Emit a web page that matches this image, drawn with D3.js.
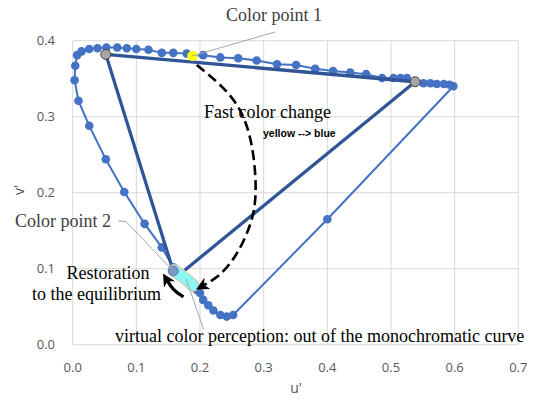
<!DOCTYPE html>
<meta charset="utf-8">
<head>
    <title>u'v' chromaticity</title>
</head>
<style>
 body { margin: 0; background: #fff; }
 .grid line { stroke: #d9d9d9; stroke-width: 1px; }
 .tick-label { font-family: "Open Sans", sans-serif; font-size: 13px; fill: #595959; }
 .note { font-family: "Liberation Serif", serif; font-size: 18px; }
 .leader { fill: none; stroke: #a6a6a6; stroke-width: 1px; }
</style>
<body>
<div id="chart"></div>
<script src="https://d3js.org/d3.v7.min.js"></script>
<script>

 // spectral locus (u', v'), bottom of the curve -> up the left -> top -> red end
 var locusU = [0.252, 0.242, 0.232, 0.221, 0.213, 0.205, 0.200, 0.195, 0.190, 0.180, 0.170, 0.158,
               0.140, 0.113, 0.081, 0.052, 0.026, 0.009, 0.003, 0.004, 0.007, 0.014, 0.026, 0.039,
               0.053, 0.070, 0.085, 0.100, 0.119, 0.140, 0.158, 0.179, 0.188, 0.205, 0.232, 0.260,
               0.289, 0.321, 0.351, 0.381, 0.409, 0.436, 0.461, 0.486, 0.504, 0.515, 0.525, 0.538,
               0.551, 0.562, 0.572, 0.583, 0.592, 0.598];
 var locusV = [0.039, 0.037, 0.039, 0.045, 0.052, 0.059, 0.068, 0.072, 0.077, 0.086, 0.092, 0.102,
               0.128, 0.159, 0.201, 0.244, 0.288, 0.321, 0.348, 0.367, 0.381, 0.386, 0.389, 0.390,
               0.391, 0.391, 0.390, 0.389, 0.388, 0.384, 0.384, 0.383, 0.380, 0.381, 0.378, 0.377,
               0.374, 0.369, 0.368, 0.363, 0.360, 0.358, 0.356, 0.351, 0.351, 0.351, 0.351, 0.346,
               0.344, 0.344, 0.343, 0.343, 0.342, 0.340];

 // purple line: red end -> one marker -> blue end
 var purpleU = [0.598, 0.400, 0.252];
 var purpleV = [0.340, 0.165, 0.039];

 // triangle between the two grey points and the virtual colour
 var triU = [0.158, 0.052, 0.538, 0.176];
 var triV = [0.097, 0.382, 0.346, 0.098];

 var greyU = [0.052, 0.538];
 var greyV = [0.382, 0.346];

 var point1 = [0.188, 0.380];   // yellow
 var point2 = [0.158, 0.097];   // grey-blue

 // cyan band (virtual colour perception)
 var cyanU = [0.159, 0.170, 0.180, 0.189];
 var cyanV = [0.098, 0.091, 0.085, 0.078];

 // dashed arc "fast color change"
 var arcU = [0.195, 0.258, 0.283, 0.290, 0.281, 0.256, 0.228, 0.201];
 var arcV = [0.368, 0.325, 0.270, 0.197, 0.158, 0.114, 0.088, 0.076];

 // restoration arrow
 var backU = [0.174, 0.157, 0.146];
 var backV = [0.063, 0.072, 0.088];

 var xTicks = [0, 0.1, 0.2, 0.3, 0.4, 0.5, 0.6, 0.7];
 var yTicks = [0, 0.1, 0.2, 0.3, 0.4];

 var width = 542, height = 400;

 var x = d3.scaleLinear().domain([0, 0.7]).range([72.7, 518.3]);
 var y = d3.scaleLinear().domain([0, 0.4]).range([344.7, 40.7]);

 function pts(us, vs) {
     return us.map(function(u, i) { return [u, vs[i]]; });
 }

 var line = d3.line()
              .x(function(d) { return x(d[0]); })
              .y(function(d) { return y(d[1]); });

 var svg = d3.select("#chart").append("svg")
             .attr("width", width)
             .attr("height", height);

 svg.append("rect").attr("width", width).attr("height", height).attr("fill", "#fff");

 var defs = svg.append("defs");
 defs.append("marker")
     .attr("id", "head")
     .attr("viewBox", "0 0 10 10")
     .attr("refX", 6).attr("refY", 5)
     .attr("markerWidth", 5).attr("markerHeight", 5)
     .attr("markerUnits", "strokeWidth")
     .attr("orient", "auto")
     .append("path")
     .attr("d", "M0,0 L10,5 L0,10 L3,5 Z")
     .attr("fill", "#000");
 defs.append("marker")
     .attr("id", "head2")
     .attr("viewBox", "0 0 10 10")
     .attr("refX", 6).attr("refY", 5)
     .attr("markerWidth", 4).attr("markerHeight", 4)
     .attr("markerUnits", "strokeWidth")
     .attr("orient", "auto")
     .append("path")
     .attr("d", "M0,0 L10,5 L0,10 L3,5 Z")
     .attr("fill", "#000");

 // grid
 var grid = svg.append("g").attr("class", "grid");
 grid.selectAll(".gx").data(xTicks).enter().append("line")
     .attr("x1", function(d) { return x(d); }).attr("x2", function(d) { return x(d); })
     .attr("y1", y(0)).attr("y2", y(0.4));
 grid.selectAll(".gy").data(yTicks).enter().append("line")
     .attr("y1", function(d) { return y(d); }).attr("y2", function(d) { return y(d); })
     .attr("x1", x(0)).attr("x2", x(0.7));

 // tick labels
 svg.selectAll(".xl").data(xTicks).enter().append("text")
    .attr("class", "tick-label")
    .attr("x", function(d) { return x(d); })
    .attr("y", 372)
    .attr("text-anchor", "middle")
    .text(function(d) { return d.toFixed(1); });
 svg.selectAll(".yl").data(yTicks).enter().append("text")
    .attr("class", "tick-label")
    .attr("x", 55)
    .attr("y", function(d) { return y(d) + 4.5; })
    .attr("text-anchor", "end")
    .text(function(d) { return d.toFixed(1); });

 svg.append("text").attr("class", "tick-label")
    .attr("x", 296).attr("y", 393)
    .attr("text-anchor", "middle")
    .style("font-size", "14px")
    .text("u'");
 svg.append("text").attr("class", "tick-label")
    .attr("transform", "translate(24,190) rotate(-90)")
    .attr("text-anchor", "middle")
    .style("font-size", "14px")
    .text("v'");

 // purple line
 svg.append("path")
    .datum(pts(purpleU, purpleV))
    .attr("fill", "none").attr("stroke", "#4472c4").attr("stroke-width", 2)
    .attr("d", line);
 svg.append("circle")
    .attr("cx", x(purpleU[1])).attr("cy", y(purpleV[1])).attr("r", 4.3)
    .attr("fill", "#4472c4");

 // locus
 var locus = pts(locusU, locusV);
 svg.append("path")
    .datum(locus)
    .attr("fill", "none").attr("stroke", "#4472c4").attr("stroke-width", 2)
    .attr("d", line);
 svg.append("g").selectAll("circle")
    .data(locus).enter().append("circle")
    .attr("cx", function(d) { return x(d[0]); })
    .attr("cy", function(d) { return y(d[1]); })
    .attr("r", 4.3)
    .attr("fill", "#4472c4");

 // triangle
 svg.append("path")
    .datum(pts(triU, triV))
    .attr("fill", "none").attr("stroke", "#2f5597").attr("stroke-width", 3.3)
    .attr("stroke-linejoin", "round")
    .attr("d", line);

 // cyan band
 var cyan = pts(cyanU, cyanV);
 svg.append("path").datum(cyan)
    .attr("fill", "none").attr("stroke", "#f4b183").attr("stroke-width", 12.5)
    .attr("stroke-linecap", "round").attr("d", line);
 svg.append("path").datum(cyan)
    .attr("fill", "none").attr("stroke", "#8cf7f7").attr("stroke-width", 11)
    .attr("stroke-linecap", "round").attr("d", line);

 // grey points
 svg.append("g").selectAll("circle")
    .data(pts(greyU, greyV)).enter().append("circle")
    .attr("cx", function(d) { return x(d[0]); })
    .attr("cy", function(d) { return y(d[1]); })
    .attr("r", 5)
    .attr("fill", "#a5a5a5").attr("stroke", "#404040").attr("stroke-width", 1);

 svg.append("circle")
    .attr("cx", x(point1[0])).attr("cy", y(point1[1])).attr("r", 5.2)
    .attr("fill", "#ffff00");
 svg.append("circle")
    .attr("cx", x(point2[0])).attr("cy", y(point2[1])).attr("r", 5)
    .attr("fill", "#7a97c6").attr("stroke", "#5b7fc0").attr("stroke-width", 1);

 // arrows
 svg.append("path")
    .datum(pts(arcU, arcV))
    .attr("fill", "none").attr("stroke", "#000").attr("stroke-width", 2.6)
    .attr("stroke-dasharray", "10,5")
    .attr("marker-end", "url(#head)")
    .attr("d", line.curve(d3.curveBasis));
 svg.append("path")
    .datum(pts(backU, backV))
    .attr("fill", "none").attr("stroke", "#000").attr("stroke-width", 3.2)
    .attr("marker-end", "url(#head2)")
    .attr("d", line.curve(d3.curveBasis));
 line.curve(d3.curveLinear);

 // leaders
 svg.append("path").attr("class", "leader")
    .attr("d", "M" + x(point1[0]) + "," + y(point1[1]) + " L275,32");
 svg.append("path").attr("class", "leader")
    .attr("d", "M" + x(point2[0]) + "," + y(point2[1]) + " L126,221.5 L118,221");
 svg.append("path").attr("class", "leader")
    .attr("d", "M" + x(0.178) + "," + y(0.087) + " L203.5,329");

 // labels
 svg.append("text").attr("class", "note")
    .attr("x", 226).attr("y", 21).attr("fill", "#404040")
    .text("Color point 1");
 svg.append("text").attr("class", "note")
    .attr("x", 204).attr("y", 118).attr("fill", "#000")
    .text("Fast color change");
 svg.append("text")
    .attr("x", 263).attr("y", 136.5)
    .style("font-family", "'Liberation Sans', sans-serif")
    .style("font-size", "10.5px").style("font-weight", "bold")
    .text("yellow --> blue");
 svg.append("text").attr("class", "note")
    .attr("x", 15).attr("y", 226.5).attr("fill", "#404040")
    .text("Color point 2");
 svg.append("text").attr("class", "note")
    .attr("x", 66.5).attr("y", 279)
    .text("Restoration");
 svg.append("text").attr("class", "note")
    .attr("x", 32).attr("y", 300)
    .text("to the equilibrium");
 svg.append("text").attr("class", "note")
    .attr("x", 115).attr("y", 341.5)
    .text("virtual color perception: out of the monochromatic curve");

</script>
</body>
